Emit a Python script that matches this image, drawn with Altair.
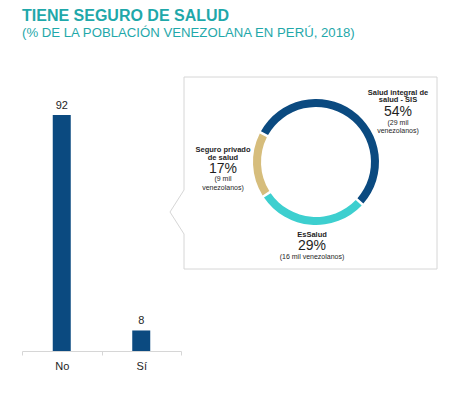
import altair as alt
import pandas as pd

# ---------------- data ----------------
bar_cats = ["No", "Sí"]
bar_vals = [92, 8]

slice_names = ["Salud integral de salud - SIS", "EsSalud", "Seguro privado de salud"]
slice_lines = [["Salud integral de", "salud - SIS"], ["EsSalud"], ["Seguro privado", "de salud"]]
slice_pct = [54, 29, 17]
slice_mil = [29, 16, 9]

title_text = "TIENE SEGURO DE SALUD"
subtitle_text = "(% DE LA POBLACIÓN VENEZOLANA EN PERÚ, 2018)"

# ---------------- style ----------------
FONT = "Liberation Sans"
NAVY = "#0b4a80"
CYAN = "#3dcfcf"
TAN = "#d6bd7c"
TEAL = "#1fa8aa"
GRAY = "#d6d6d6"
INK = "#1e1e1e"
W, H = 433, 343

bars_df = pd.DataFrame({"cat": bar_cats, "val": bar_vals})

xscale = alt.Scale(domain=bar_cats, range=[14, 173], paddingInner=0, paddingOuter=0)
yscale = alt.Scale(domain=[0, 133.7], nice=False)
xaxis = alt.Axis(title=None, labelAngle=0, tickBand="extent", domainColor=GRAY,
                 tickColor=GRAY, tickSize=4, labelPadding=5, labelFontSize=11,
                 labelFont=FONT, labelColor=INK, grid=False)

bars = alt.Chart(bars_df).mark_bar(size=18, color=NAVY).encode(
    x=alt.X("cat:N", sort=bar_cats, scale=xscale, axis=xaxis),
    y=alt.Y("val:Q", scale=yscale, axis=None),
)
bar_text = alt.Chart(bars_df).mark_text(baseline="bottom", dy=-4, fontSize=11, font=FONT,
                                        color=INK).encode(
    x=alt.X("cat:N", sort=bar_cats, scale=xscale, axis=xaxis),
    y=alt.Y("val:Q", scale=yscale, axis=None),
    text="val:Q",
)
bar_layer = alt.layer(bars, bar_text)

# callout box with notch (decorative outline)
box_df = pd.DataFrame({
    "i": list(range(8)),
    "bx": [176, 176, 429, 429, 176, 176, 162, 176],
    "by": [182, 69, 69, 261, 261, 226, 204, 182],
})
box = alt.Chart(box_df).mark_line(color=GRAY, strokeWidth=1).encode(
    x=alt.X("bx:Q", scale=alt.Scale(domain=[0, W], range=[0, W], nice=False, zero=False), axis=None),
    y=alt.Y("by:Q", scale=alt.Scale(domain=[0, H], range=[0, H], nice=False, zero=False), axis=None),
    order=alt.Order("i:Q"),
)

# donut
PI = 3.141592653589793
pie_df = pd.DataFrame({"name": slice_names, "pct": slice_pct, "idx": [0, 1, 2]})
start = 298 * PI / 180
donut = alt.Chart(pie_df).mark_arc(innerRadius=55, outerRadius=63, padAngle=0.03).encode(
    theta=alt.Theta("pct:Q", stack=True, scale=alt.Scale(range=[start, start + 2 * PI])),
    color=alt.Color("name:N", scale=alt.Scale(domain=slice_names, range=[NAVY, CYAN, TAN]), legend=None),
    order=alt.Order("idx:Q"),
    x=alt.value(308),
    y=alt.value(154),
)


def label(txt, x, y, size, bold=False, color=INK, align="center", baseline="middle"):
    return alt.Chart(pd.DataFrame({"t": [txt]})).mark_text(
        fontSize=size, fontWeight="bold" if bold else "normal", font=FONT, color=color,
        align=align, baseline=baseline).encode(x=alt.value(x), y=alt.value(y), text="t:N")


layers = [box, bar_layer, donut]

# title
layers.append(label(title_text, 14, 13, 16, bold=True, color=TEAL, align="left", baseline="alphabetic"))
layers.append(label(subtitle_text, 14, 29, 13.2, color=TEAL, align="left", baseline="alphabetic"))

# slice labels: SIS
layers += [
    label(slice_lines[0][0], 390, 84.7, 7.5, bold=True),
    label(slice_lines[0][1], 390, 92, 7.5, bold=True),
    label(f"{slice_pct[0]}%", 390, 103.7, 14),
    label(f"({slice_mil[0]} mil", 390, 114.7, 7),
    label("venezolanos)", 390, 123, 7),
]
# Seguro privado
layers += [
    label(slice_lines[2][0], 215, 142, 7.5, bold=True),
    label(slice_lines[2][1], 215, 150, 7.5, bold=True),
    label(f"{slice_pct[2]}%", 215, 161, 14),
    label(f"({slice_mil[2]} mil", 215, 171, 7),
    label("venezolanos)", 215, 180, 7),
]
# EsSalud
layers += [
    label(slice_lines[1][0], 304, 227, 7.5, bold=True),
    label(f"{slice_pct[1]}%", 304, 238, 14),
    label(f"({slice_mil[1]} mil venezolanos)", 304, 249, 7),
]

chart = alt.layer(*layers).resolve_scale(x="independent", y="independent", color="independent").properties(
    width=W, height=H,
    background="white",
    autosize=alt.AutoSizeParams(type="none"),
    padding={"left": 0, "top": 0, "right": 0, "bottom": 39},
).configure_view(stroke=None)

chart.save("out.html", embed_options={"renderer": "svg", "actions": False})
